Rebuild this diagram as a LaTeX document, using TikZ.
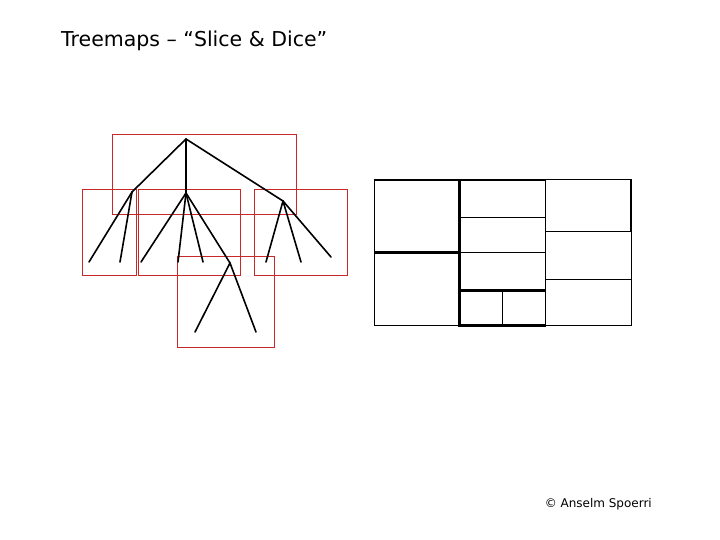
\documentclass[tikz,border=0pt]{standalone}
\usepackage{fontspec}
\setmainfont{DejaVu Sans}
\begin{document}
\begin{tikzpicture}[x=1pt,y=-1pt,
  edge/.style={line width=1.6pt,black,line cap=round},
  redbox/.style={draw={rgb,255:red,200;green,40;blue,40},line width=0.9pt},
  thin/.style={line width=1pt,black},
  thick/.style={line width=2.2pt,black}]
\useasboundingbox (0,0) rectangle (720,540);
\node[anchor=base west,font=\fontsize{20.5}{24}\selectfont,inner sep=0] (title) at (61,47) {Treemaps – “Slice \& Dice”};
\node[anchor=base east,font=\fontsize{12}{14}\selectfont,inner sep=0] (copy) at (652,507) {© Anselm Spoerri};
% red boxes
\draw[redbox] (112,134) rectangle (296.5,214);
\draw[redbox] (82,189) rectangle (136.5,275);
\draw[redbox] (138,189) rectangle (240.5,275);
\draw[redbox] (254.5,189) rectangle (347,275);
\draw[redbox] (177,256) rectangle (274,347);
% tree
\coordinate (r) at (186,139);
\coordinate (a) at (132,192);
\coordinate (b) at (186,193);
\coordinate (c) at (283,201);
\coordinate (a1) at (89,262);
\coordinate (a2) at (120,262);
\coordinate (b1) at (141,262);
\coordinate (b2) at (178,262);
\coordinate (b3) at (203,262);
\coordinate (b4) at (230,263);
\coordinate (d1) at (195,332);
\coordinate (d2) at (256,332);
\coordinate (c1) at (266,262);
\coordinate (c2) at (301,262);
\coordinate (c3) at (331,257);
\foreach \p/\q in {r/a,r/b,r/c,a/a1,a/a2,b/b1,b/b2,b/b3,b/b4,b4/d1,b4/d2,c/c1,c/c2,c/c3}
  \draw[edge] (\p) -- (\q);
% treemap
\draw[thin] (374.5,180) rectangle (631,325.5);
\draw[thin] (374.5,252.5) -- (459.5,252.5);
\draw[thin] (459.5,217.5) -- (545.5,217.5);
\draw[thin] (459.5,252.5) -- (545.5,252.5);
\draw[thin] (502.5,290.5) -- (502.5,325.5);
\draw[thin] (545.5,180) -- (545.5,325.5);
\draw[thin] (545.5,231.5) -- (631,231.5);
\draw[thin] (545.5,279.5) -- (631,279.5);
\draw[thick] (374.5,180) -- (545.5,180);
\draw[thick] (459.5,180) -- (459.5,325.5) -- (545.5,325.5);
\draw[thick] (459.5,290.5) -- (545.5,290.5);
\draw[thick] (374.5,252.5) -- (459.5,252.5);
\draw[thick] (631,180) -- (631,231.5);
\end{tikzpicture}
\end{document}
